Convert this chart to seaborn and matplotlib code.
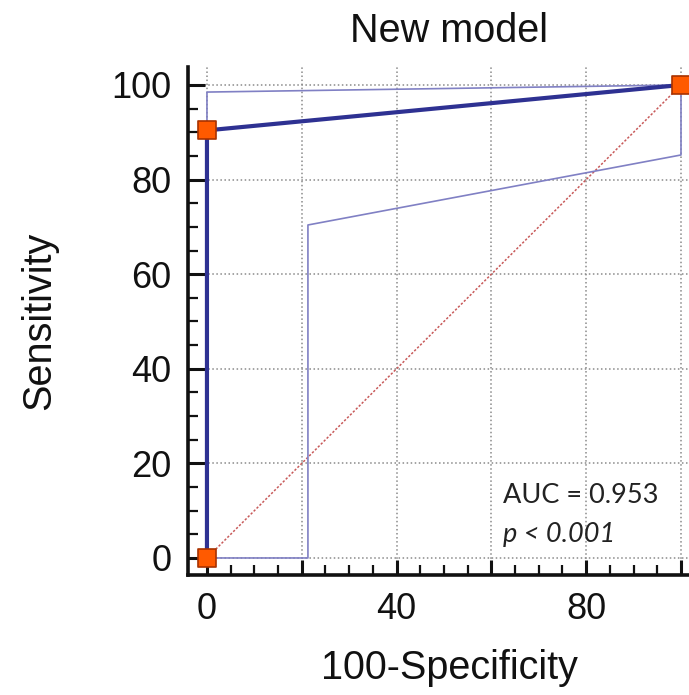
import numpy as np
import pandas as pd
from matplotlib import pyplot as plt
from matplotlib.ticker import MultipleLocator
import seaborn as sns

sns.set_style('ticks')
plt.rcParams['font.family'] = ['Liberation Sans', 'DejaVu Sans']

# ROC curve and confidence band
roc_x = [0, 0, 100]
roc_y = [0, 90.4, 100]
upper_x = [0, 0, 100]
upper_y = [0, 98.5, 100]
lower_x = [0, 21.3, 21.3, 100, 100]
lower_y = [0, 0, 70.4, 85.2, 100]
diag_x = [0, 100]
diag_y = [0, 100]
auc_text = 'AUC = 0.953'
p_text = 'p < 0.001'

fig = plt.figure(figsize=(6.89, 6.95), dpi=100)
ax = fig.add_axes([188 / 689, 1 - 575 / 695, (710 - 188) / 689, (575 - 67) / 695])

ax.grid(True, linestyle=':', color='#8a8a8a', linewidth=1.1, zorder=0)

sns.lineplot(x=diag_x, y=diag_y, ax=ax, sort=False, estimator=None,
             color='#c85a5a', linestyle=(0, (1.5, 1.2)), linewidth=1.1, zorder=2)
sns.lineplot(x=upper_x, y=upper_y, ax=ax, sort=False, estimator=None,
             color='#8080c4', linewidth=1.2, zorder=3)
sns.lineplot(x=lower_x, y=lower_y, ax=ax, sort=False, estimator=None,
             color='#8080c4', linewidth=1.2, zorder=3)
sns.lineplot(x=roc_x, y=roc_y, ax=ax, sort=False, estimator=None,
             color='#2e3192', linewidth=3.0, zorder=4)
sns.scatterplot(x=roc_x, y=roc_y, ax=ax, marker='s', s=150,
                color='#ff5a00', edgecolor='#a83200', linewidth=1.2, zorder=5,
                clip_on=False)

ax.set_xlim(-4, (710 - 207) / 4.74)
ax.set_ylim(-3.6, 103.8)
ax.set_xticks([0, 20, 40, 60, 80, 100])
ax.set_xticklabels(['0', '', '40', '', '80', ''])
ax.set_yticks([0, 20, 40, 60, 80, 100])
ax.xaxis.set_minor_locator(MultipleLocator(5))
ax.yaxis.set_minor_locator(MultipleLocator(5))
ax.tick_params(which='major', direction='in', length=12, width=2.2, labelsize=26,
               color='#111111', labelcolor='#111111')
ax.tick_params(which='minor', direction='in', length=7.5, width=1.6, color='#111111')
ax.tick_params(axis='x', which='major', length=11, pad=12)
ax.tick_params(axis='x', which='minor', length=7)
ax.tick_params(axis='y', which='major', pad=12)

for side in ['top', 'right']:
    ax.spines[side].set_visible(False)
for side in ['left', 'bottom']:
    ax.spines[side].set_linewidth(2.6)
    ax.spines[side].set_color('#111111')

ax.set_xlabel('100-Specificity', fontsize=28.5, labelpad=16, color='#111111')
ax.set_ylabel('Sensitivity', fontsize=28.5, labelpad=38, color='#111111')
ax.set_title('New model', fontsize=28.5, pad=18, color='#111111')

ax.text(62.4, 11.6, auc_text, fontsize=19.5, family=['Lato', 'DejaVu Sans'],
        color='#222222')
ax.text(62.4, 3.4, p_text, fontsize=19.5, family=['Lato', 'DejaVu Sans'],
        style='italic', color='#222222')

plt.savefig('out.png', dpi=100)
